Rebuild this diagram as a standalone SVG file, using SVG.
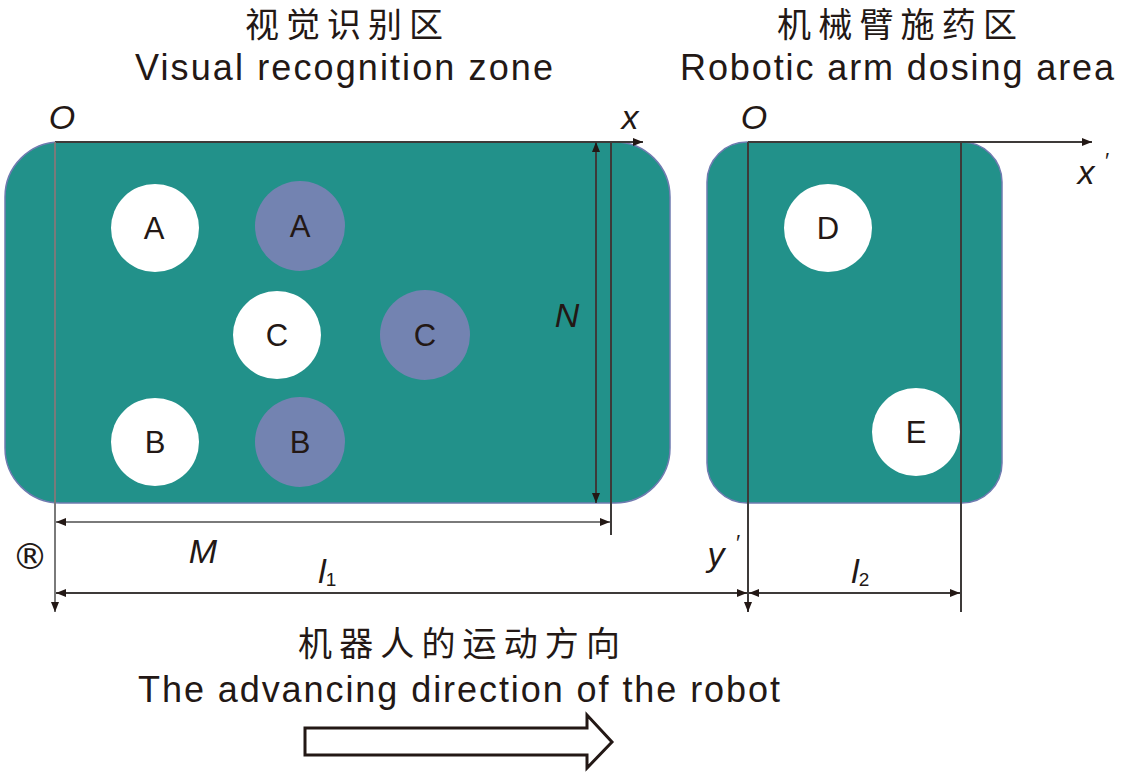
<svg xmlns="http://www.w3.org/2000/svg" width="1134" height="774" viewBox="0 0 1134 774">
<defs>
<marker id="ah" viewBox="0 0 10 10" refX="10" refY="5" markerWidth="10" markerHeight="10" markerUnits="userSpaceOnUse" orient="auto-start-reverse"><path d="M0,1 L10,5 L0,9 z" fill="#231815"/></marker>
</defs>
<style>
.zone{fill:#22918a;stroke:#6f7bb0;stroke-width:1.5}
.w{fill:#fff}
.b{fill:#7383b1}
.lt{font-family:"Liberation Sans",Arial,sans-serif;font-size:31px;fill:#231815;text-anchor:middle}
.cn{font-family:"Noto Sans CJK SC",sans-serif;font-size:34px;fill:#231815}
.en{font-family:"Liberation Sans",Arial,sans-serif;font-size:36px;fill:#231815}
.it{font-family:"Liberation Sans",Arial,sans-serif;font-style:italic;font-size:34px;fill:#231815;text-anchor:middle}
.sub{font-family:"Liberation Sans",Arial,sans-serif;font-size:19px;fill:#231815;text-anchor:middle}
.ln{stroke:#3d3a39;stroke-width:2;fill:none}
.gl{stroke:#7a7a7a;stroke-width:2;fill:none}
</style>
<g id="titles">
<text class="cn" x="245" y="37" textLength="198" lengthAdjust="spacing">视觉识别区</text>
<text class="en" x="135" y="80" textLength="418" lengthAdjust="spacing">Visual recognition zone</text>
<text class="cn" x="777" y="37" textLength="240" lengthAdjust="spacing">机械臂施药区</text>
<text class="en" x="680" y="80" textLength="434" lengthAdjust="spacing">Robotic arm dosing area</text>
<text class="cn" x="298" y="656" textLength="322" lengthAdjust="spacing">机器人的运动方向</text>
<text class="en" x="138" y="702" textLength="642" lengthAdjust="spacing">The advancing direction of the robot</text>
</g>
<g id="zone-vision"><rect class="zone" x="5" y="142" width="665" height="361" rx="55"/></g>
<g id="zone-arm"><rect class="zone" x="707" y="142" width="295" height="361" rx="40"/></g>
<g id="circle-A1"><circle class="w" cx="155" cy="228" r="44"/><text class="lt" x="154" y="239">A</text></g>
<g id="circle-A2"><circle class="b" cx="300" cy="226" r="45"/><text class="lt" x="300" y="237">A</text></g>
<g id="circle-C1"><circle class="w" cx="277" cy="335" r="44"/><text class="lt" x="277" y="346">C</text></g>
<g id="circle-C2"><circle class="b" cx="425" cy="335" r="45"/><text class="lt" x="425" y="346">C</text></g>
<g id="circle-B1"><circle class="w" cx="155" cy="442" r="44"/><text class="lt" x="155" y="453">B</text></g>
<g id="circle-B2"><circle class="b" cx="300" cy="442" r="45"/><text class="lt" x="300" y="453">B</text></g>
<g id="circle-D"><circle class="w" cx="828" cy="228" r="44"/><text class="lt" x="828" y="239">D</text></g>
<g id="circle-E"><circle class="w" cx="916" cy="432" r="44"/><text class="lt" x="916" y="443">E</text></g>
<g id="connectors">
<line class="ln" x1="55" y1="142" x2="643" y2="142" marker-end="url(#ah)"/>
<line class="gl" x1="55" y1="142" x2="55" y2="612" marker-end="url(#ah)"/>
<line class="ln" x1="611" y1="142" x2="611" y2="535"/>
<line class="ln" x1="596" y1="142" x2="596" y2="503" marker-start="url(#ah)" marker-end="url(#ah)"/>
<line class="gl" x1="56" y1="522" x2="610" y2="522" marker-start="url(#ah)" marker-end="url(#ah)"/>
<line class="ln" x1="56" y1="593" x2="747" y2="593" marker-start="url(#ah)" marker-end="url(#ah)"/>
<line class="ln" x1="748" y1="142" x2="1092" y2="142" marker-end="url(#ah)"/>
<line class="ln" x1="748" y1="142" x2="748" y2="612" marker-end="url(#ah)"/>
<line class="ln" x1="961" y1="142" x2="961" y2="612"/>
<line class="ln" x1="749" y1="593" x2="960" y2="593" marker-start="url(#ah)" marker-end="url(#ah)"/>
</g>
<g id="labels">
<text class="it" x="62" y="129">O</text>
<text class="it" x="630" y="129">x</text>
<text class="it" x="754" y="129">O</text>
<text class="it" x="1086" y="184">x</text><text class="it" x="1106" y="168" style="font-size:22px">′</text>
<text class="it" x="567" y="327">N</text>
<text class="it" x="203" y="563">M</text>
<text class="it" x="322" y="583">l</text><text class="sub" x="331" y="586">1</text>
<text class="it" x="716" y="566">y</text><text class="it" x="737" y="550" style="font-size:22px">′</text>
<text class="it" x="855" y="583">l</text><text class="sub" x="864" y="586">2</text>
<text x="30" y="569" style="font-family:'DejaVu Sans',sans-serif;font-size:36px;fill:#231815;text-anchor:middle">®</text>
</g>
<g id="direction-arrow"><path d="M305,728 L587,728 L587,715 L612,742 L587,768 L587,755 L305,755 Z" fill="#fff" stroke="#231815" stroke-width="3" stroke-linejoin="miter"/></g>
</svg>
